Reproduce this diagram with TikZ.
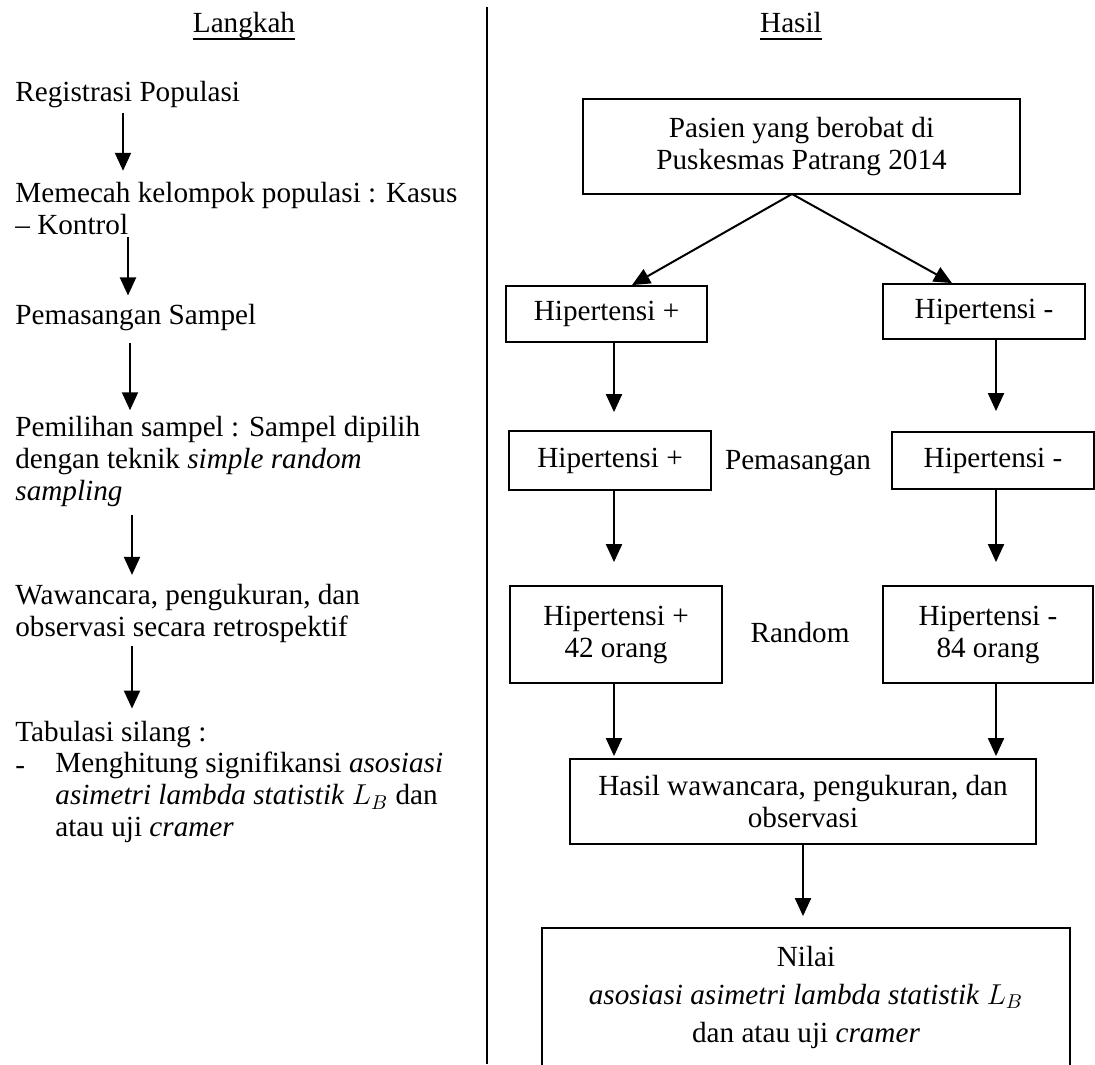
\documentclass[tikz,border=0pt]{standalone}
\usepackage{fontspec}
\setmainfont{Liberation Serif}
\usetikzlibrary{positioning,arrows.meta}

\begin{document}
\begin{tikzpicture}[x=0.5pt, y=-0.5pt,
		font=\fontsize{14.6pt}{16pt}\selectfont,
		head/.style={inner sep=0pt, anchor=base},
		txt/.style={inner sep=0pt, align=left, anchor=north west,
			execute at begin node=\strut, execute at end node=\strut},
		block/.style={draw, line width=0.9pt, inner sep=0pt, align=center},
		free/.style={inner sep=0pt, align=center}
	]
	\useasboundingbox (0,0) rectangle (1095,1064);

	% judul kolom
	\node[head] (langkah) at (244,33) {Langkah};
	\node[head] (hasilhead) at (791,33) {Hasil};
	\draw[line width=0.7pt] ([yshift=-3pt]langkah.base west) -- ([yshift=-3pt]langkah.base east);
	\draw[line width=0.7pt] ([yshift=-3pt]hasilhead.base west) -- ([yshift=-3pt]hasilhead.base east);
	\draw[line width=1.2pt] (487,7) -- (487,1064);

	% langkah
	\node[txt] (reg) at (15,78.6) {Registrasi Populasi};
	\node[txt] (pecah) [below=35pt of reg.south west, anchor=north west] {Memecah kelompok populasi : Kasus\\\textendash{} Kontrol};
	\node[txt] (pasang) [below=29pt of pecah.south west, anchor=north west] {Pemasangan Sampel};
	\node[txt] (pilih) [below=40.5pt of pasang.south west, anchor=north west] {Pemilihan sampel : Sampel dipilih\\dengan teknik \textit{simple random}\\\textit{sampling}};
	\node[txt] (wawan) [below=36.5pt of pilih.south west, anchor=north west] {Wawancara, pengukuran, dan\\observasi secara retrospektif};
	\node[txt] (tabul) [below=36.5pt of wawan.south west, anchor=north west] {Tabulasi silang :};
	\node[txt] (dash) [below=0pt of tabul.south west, anchor=north west] {-};
	\node[txt] (hitung) [below=0pt of tabul.south west, xshift=20pt, anchor=north west] {Menghitung signifikansi \textit{asosiasi}\\\textit{asimetri lambda statistik} $L_B$ dan\\atau uji \textit{cramer}};

	% hasil
	\node[block, minimum width=218.5pt, minimum height=47.5pt] (pasien) at (801.5,146.5) {Pasien yang berobat di\\Puskesmas Patrang 2014};
	\node[block, minimum width=100.5pt, minimum height=28pt] (plusA) at (606.5,314) {Hipertensi +};
	\node[block, minimum width=101pt, minimum height=27.5pt] (minA) at (984,311.5) {Hipertensi -};
	\node[block, minimum width=101pt, minimum height=29.5pt] (plusB) at (610,460.5) {Hipertensi +};
	\node[block, minimum width=101pt, minimum height=28.5pt] (minB) at (993,460.5) {Hipertensi -};
	\node[free] (pasangan) at (798,463) {Pemasangan};
	\node[block, minimum width=106pt, minimum height=48.5pt] (plusC) at (616,634.5) {Hipertensi +\\42 orang};
	\node[block, minimum width=105pt, minimum height=48.5pt] (minC) at (988,634.5) {Hipertensi -\\84 orang};
	\node[free] (acak) at (800,633) {Random};
	\node[block, minimum width=233pt, minimum height=42.5pt] (hasil) at (803,801.5) {Hasil wawancara, pengukuran, dan\\observasi};
	\node[block, minimum width=264pt, minimum height=69.5pt] (nilai) at (806,997.5) {Nilai\\[3pt]\textit{asosiasi asimetri lambda statistik} $L_B$\\[3pt]dan atau uji \textit{cramer}};

	\coordinate (split) at (792,194);
	\coordinate (tipL) at (632,0);
	\coordinate (tipR) at (952,0);
	\coordinate (colL) at (614,0);
	\coordinate (colR) at (996,0);

	\begin{scope}[line width=1pt, -{Triangle[length=9pt,width=8pt]}]
	\draw[shorten <=1pt, shorten >=5.3pt] ([xshift=54pt]reg.south west) -- ([xshift=54pt]pecah.north west);
	\draw[shorten <=-3.3pt, shorten >=3.3pt] ([xshift=56.5pt]pecah.south west) -- ([xshift=56.5pt]pasang.north west);
	\draw[shorten <=4.2pt, shorten >=2.8pt] ([xshift=57.5pt]pasang.south west) -- ([xshift=57.5pt]pilih.north west);
	\draw[shorten <=2.2pt, shorten >=4.3pt] ([xshift=58.5pt]pilih.south west) -- ([xshift=58.5pt]wawan.north west);
	\draw[shorten >=5.3pt] ([xshift=58.5pt]wawan.south west) -- ([xshift=58.5pt]tabul.north west);

	\draw (split) -- (plusA.north -| tipL);
	\draw (split) -- (minA.north -| tipR);
	\draw[shorten >=9pt] (plusA.south -| colL) -- (plusB.north -| colL);
	\draw[shorten >=10pt] (minA.south -| colR) -- (minB.north -| colR);
	\draw[shorten >=11.5pt] (plusB.south -| colL) -- (plusC.north -| colL);
	\draw[shorten >=11.5pt] (minB.south -| colR) -- (minC.north -| colR);
	\draw[shorten >=1pt] (plusC.south -| colL) -- (hasil.north -| colL);
	\draw[shorten >=1pt] (minC.south -| colR) -- (hasil.north -| colR);
	\draw[shorten >=5.5pt] (hasil.south) -- (hasil.south |- nilai.north);
	\end{scope}
\end{tikzpicture}
\end{document}
